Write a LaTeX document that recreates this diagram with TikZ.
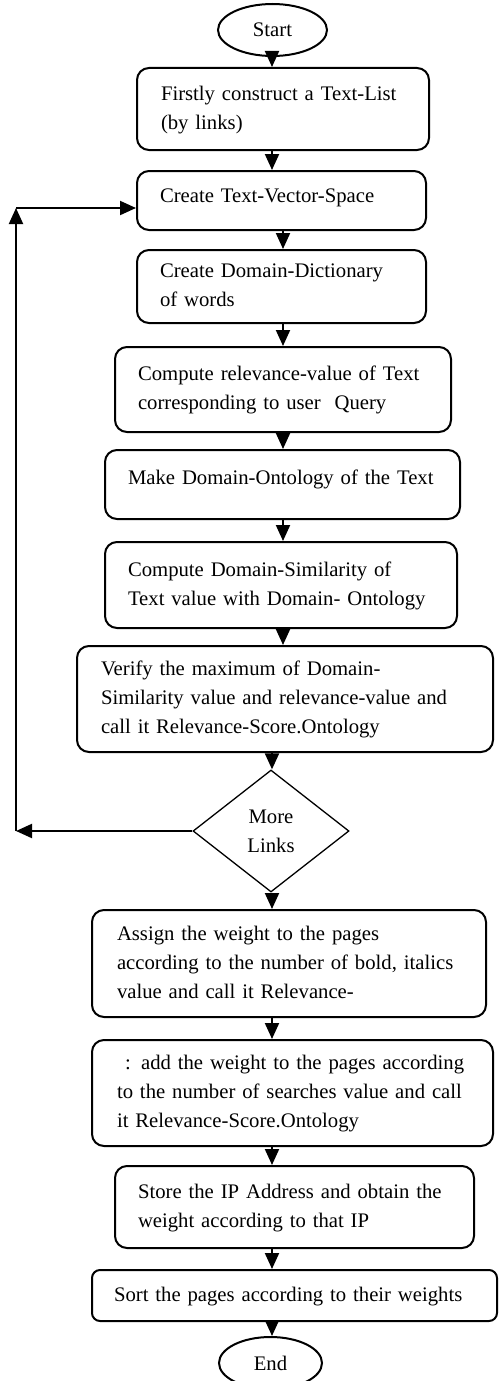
\documentclass[tikz,border=0pt]{standalone}
\usepackage{fontspec}
\setmainfont{Liberation Serif}
\usepackage{tikz}
\usetikzlibrary{arrows.meta,shapes.geometric}

\newcommand{\rows}[1]{\begin{tabular}{@{}l@{}}#1\end{tabular}}

\begin{document}
\begin{tikzpicture}[x=1pt,y=-1pt,
		every node/.style={font=\fontsize{20.7}{29}\selectfont},
		proc/.style={draw,line width=2pt,rounded corners=12pt,align=left,inner ysep=0pt},
		term/.style={draw,ellipse,line width=2pt,inner sep=0pt},
		decide/.style={draw,diamond,line width=1.3pt,inner sep=0pt,align=center},
		>={Triangle[length=16pt,width=14pt]}]
		\useasboundingbox (0,0) rectangle (498,1381);
		\node[term,minimum width=109pt,minimum height=52pt] (start) at (272.5,30) {Start};
		\node[proc,text width=244pt,inner xsep=24pt,minimum height=82pt] (list) at (283,109) {\rows{Firstly construct a Text-List\\(by links)}};
		\node[proc,text width=243pt,inner xsep=23pt,minimum height=59pt,text depth=17pt] (vecspace) at (281.5,200.5) {\rows{Create Text-Vector-Space}};
		\node[proc,text width=243pt,inner xsep=23pt,minimum height=73pt] (dict) at (281.5,286.5) {\rows{Create Domain-Dictionary\\of words}};
		\node[proc,text width=290pt,inner xsep=23pt,minimum height=85pt] (relev) at (283,389.5) {\rows{Compute relevance-value of Text\\corresponding to user\ \ Query}};
		\node[proc,text width=309pt,inner xsep=23pt,minimum height=69pt,text depth=21pt] (onto) at (282.5,484.5) {\rows{Make Domain-Ontology of the Text}};
		\node[proc,text width=306pt,inner xsep=23pt,minimum height=86pt] (simil) at (281,585) {\rows{Compute Domain-Similarity of\\Text value with Domain- Ontology}};
		\node[proc,text width=368pt,inner xsep=24pt,minimum height=106pt] (verify) at (285,699) {\rows{Verify the maximum of Domain-\\Similarity value and relevance-value and\\call it\ Relevance-Score.Ontology}};
		\node[decide,minimum width=156pt,minimum height=122pt] (more) at (271,831) {More\\Links};
		\node[proc,text width=344pt,inner xsep=25pt,minimum height=107pt] (assign) at (289,963.5) {\rows{Assign the weight to the pages\\according to the number of bold,\ italics\\value and call\ it\ Relevance-}};
		\node[proc,text width=351pt,inner xsep=25pt,minimum height=106pt] (addw) at (292.5,1093) {\rows{\hspace*{8pt}: add the weight to the pages according\\to the number of\ searches value and call\\it Relevance-Score.Ontology}};
		\node[proc,text width=313pt,inner xsep=23pt,minimum height=82pt] (storeip) at (294.5,1207) {\rows{Store the IP Address and obtain the\\weight according to that IP}};
		\node[proc,rounded corners=8pt,text width=361pt,inner xsep=22pt,minimum height=51pt] (sortp) at (294.5,1295.5) {\rows{Sort the pages according to their weights}};
		\node[term,minimum width=103pt,minimum height=52pt] (stop) at (270.5,1363) {End};
		%
		\coordinate (axis) at (272,0);
		\coordinate (spine) at (283,0);
		\coordinate (back) at (16,831);
		\coordinate (top) at (16,208);
		%
		\path[->,line width=2pt]
		% main column
		(start.south -| axis) edge (list.north -| axis)
		(list.south -| axis) edge (vecspace.north -| axis)
		(vecspace.south -| spine) edge (dict.north -| spine)
		(dict.south -| spine) edge (relev.north -| spine)
		(relev.south -| spine) edge (onto.north -| spine)
		(onto.south -| spine) edge (simil.north -| spine)
		(simil.south -| spine) edge (verify.north -| spine)
		(verify.south -| axis) edge (more.north -| axis)
		(more.south -| axis) edge (assign.north -| axis)
		(assign.south -| axis) edge (addw.north -| axis)
		(addw.south -| axis) edge (storeip.north -| axis)
		(storeip.south -| axis) edge (sortp.north -| axis)
		(sortp.south -| axis) edge (stop.north -| axis)
		% back to the top
		(more.west) edge (back)
		(back) edge (top)
		(top) edge (top -| vecspace.west);
\end{tikzpicture}
\end{document}
